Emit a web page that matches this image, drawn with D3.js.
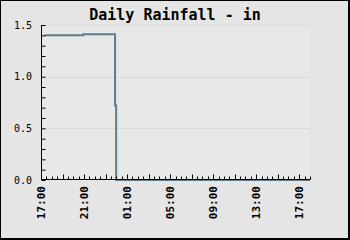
<!DOCTYPE html>
<html>
<head>
<meta charset="utf-8">
<script src="https://cdn.jsdelivr.net/npm/d3@7"></script>
<style>
  html, body { margin: 0; padding: 0; background: #e5e5e5; }
  svg { display: block; }
</style>
</head>
<body>
<svg id="chart" width="350" height="240"></svg>
<script>
// ---- data ----
const title = "Daily Rainfall - in";
const times = ["2024-05-01T17:20", "2024-05-01T20:55", "2024-05-01T23:53", "2024-05-01T23:59", "2024-05-02T18:00"];
const rain = [1.40, 1.41, 0.72, 0.00, 0.00];
const xDomain = ["2024-05-01T17:00", "2024-05-02T18:00"];
const yTicks = [0.0, 0.5, 1.0, 1.5];

// ---- layout ----
const W = 350, H = 240;
const mLeft = 41, mRight = 310, mTop = 25, mBottom = 180;

const svg = d3.select("#chart");
const parse = d3.isoParse;

// background + frame
svg.append("rect").attr("x", 0).attr("y", 0).attr("width", W).attr("height", H).attr("fill", "#e5e5e5");
svg.append("rect").attr("x", mLeft).attr("y", mTop).attr("width", mRight - mLeft).attr("height", mBottom - mTop).attr("fill", "#e8e8e8");
svg.append("rect").attr("x", 0).attr("y", 0).attr("width", W).attr("height", 1).attr("fill", "#000");
svg.append("rect").attr("x", 0).attr("y", 0).attr("width", 1).attr("height", H).attr("fill", "#000");
svg.append("rect").attr("x", W - 2).attr("y", 0).attr("width", 2).attr("height", H).attr("fill", "#000");
svg.append("rect").attr("x", 0).attr("y", H - 2).attr("width", W).attr("height", 2).attr("fill", "#000");

const x = d3.scaleTime().domain(xDomain.map(parse)).range([mLeft, mRight]);
const y = d3.scaleLinear().domain([0, 1.5]).range([mBottom, mTop]);

// gridlines
svg.append("g").selectAll("line").data(yTicks.filter(d => d > 0)).join("line")
  .attr("x1", mLeft).attr("x2", mRight)
  .attr("y1", d => Math.round(y(d)) + 0.5).attr("y2", d => Math.round(y(d)) + 0.5)
  .attr("stroke", "#dadada").attr("stroke-width", 1);

// title
svg.append("text").attr("x", 175).attr("y", 20).attr("text-anchor", "middle")
  .attr("font-family", "DejaVu Sans Mono").attr("font-weight", "bold").attr("font-size", 15)
  .attr("fill", "#000").text(title);

// data line
const line = d3.line()
  .x((d, i) => x(parse(times[i])))
  .y(d => y(d))
  .curve(d3.curveStepAfter);
svg.append("path").datum(rain).attr("d", line)
  .attr("fill", "none").attr("stroke", "#5f7b8c").attr("stroke-width", 2);

// y axis
const yAxis = svg.append("g").attr("transform", `translate(${mLeft + 0.5},0)`)
  .call(d3.axisRight(y).tickValues(d3.range(0, 16).map(i => i / 10)).tickSize(4).tickFormat(""));
yAxis.selectAll("line").attr("stroke", "#000");
yAxis.select(".domain").attr("stroke", "#000").attr("d", `M0,${mTop}V${mBottom}`);

svg.append("g").selectAll("text").data(yTicks).join("text")
  .attr("x", 32).attr("y", d => y(d) + 3.5).attr("text-anchor", "end")
  .attr("font-family", "DejaVu Sans Mono").attr("font-size", 10).attr("fill", "#000")
  .text(d => d3.format(".1f")(d));

// x axis
const x0 = x.domain()[0], x1 = x.domain()[1];
const xg = svg.append("g").attr("transform", `translate(0,${mBottom - 0.5})`);
xg.append("line").attr("x1", mLeft).attr("x2", mRight + 0.5).attr("y1", 0).attr("y2", 0).attr("stroke", "#000");
const minor = d3.timeMinute.range(x0, d3.timeMinute.offset(x1, 1), 30);
xg.selectAll("line.t").data(minor).join("line").attr("class", "t")
  .attr("x1", d => Math.round(x(d)) + 0.5).attr("x2", d => Math.round(x(d)) + 0.5)
  .attr("y1", 0).attr("y2", d => ((d - x0) / 3600000) % 2 === 0 ? -5 : -3)
  .attr("stroke", "#000");

const major = d3.timeHour.range(x0, x1, 4);
const fmt = d3.timeFormat("%H:%M");
svg.append("g").selectAll("text").data(major).join("text")
  .attr("transform", d => `translate(${Math.round(x(d)) + 4},186) rotate(-90)`)
  .attr("text-anchor", "end")
  .attr("font-family", "DejaVu Sans Mono").attr("font-weight", "bold").attr("font-size", 11).attr("fill", "#000")
  .text(d => fmt(d));
</script>
</body>
</html>
